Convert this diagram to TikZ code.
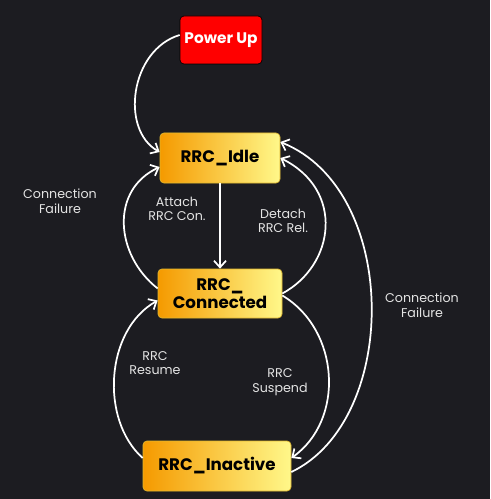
\documentclass[tikz,border=0pt]{standalone}
\usepackage{fontspec}
\setmainfont{Poppins}
\usetikzlibrary{arrows.meta}
\definecolor{bgdark}{HTML}{1C1C21}
\definecolor{stateorange}{HTML}{F59A00}
\definecolor{stateyellow}{HTML}{FFF88A}
\definecolor{stateedge}{HTML}{E0B830}
\definecolor{labelgray}{HTML}{E4E4E4}

\tikzset{
  state/.style={rounded corners=3pt,draw=stateedge,line width=0.5pt,left color=stateorange,right color=stateyellow,
    inner sep=0pt,align=center,font=\bfseries\fontsize{12.5}{13.5}\selectfont,text=black},
  powerbox/.style={rounded corners=3pt,draw=black,line width=0.5pt,fill=red,
    inner sep=0pt,font=\bfseries\fontsize{11.5}{13}\selectfont,text=white},
  trans/.style={->,draw=white,line width=1.3pt},
  translabel/.style={align=center,text=labelgray,font=\fontsize{9.5}{11}\selectfont}
}

\begin{document}
\begin{tikzpicture}[x=0.75pt,y=-0.75pt,>={Straight Barb[length=5pt,width=9pt]}]
            \fill[bgdark] (0,0) rectangle (490,499);
            \useasboundingbox (0,0) rectangle (490,499);
            % states
            \node[powerbox,minimum width=61.5pt,minimum height=36pt] (pu) at (221,40) {Power Up};
            \node[state,minimum width=90pt,minimum height=37.5pt] (idle) at (220,158) {RRC\_Idle};
            \node[state,minimum width=93pt,minimum height=36.75pt] (conn) at (220,293.5) {RRC\_\\Connected};
            \node[state,minimum width=111pt,minimum height=37.5pt] (inact) at (217,466) {RRC\_Inactive};
            % transitions
            \draw[trans] ([yshift=3.75pt]pu.west) .. controls (130,50) and (120,130) .. ([yshift=4.5pt]idle.west);
            \draw[trans] (idle.south) -- (conn.north);
            \draw[trans] ([yshift=3.75pt]conn.west) .. controls (115,255) and (110,190) .. ([yshift=-6.75pt]idle.west);
            \draw[trans] (conn.east) .. controls (335,265) and (345,190) .. (idle.east);
            \draw[trans] ([yshift=-4.5pt]inact.east) .. controls (400,420) and (400,190) .. ([yshift=12pt]idle.east);
            \draw[trans] ([yshift=-1.5pt]conn.east) .. controls (340,330) and (345,420) .. ([yshift=6pt]inact.east);
            \draw[trans] ([yshift=6pt]inact.west) .. controls (100,420) and (105,330) .. ([yshift=-5.25pt]conn.west);
            % labels
            \node[translabel] (lfail) at (60,201) {Connection\\Failure};
            \node[translabel] (lattach) at (177,209) {Attach\\RRC Con.};
            \node[translabel] (ldetach) at (283,221) {Detach\\RRC Rel.};
            \node[translabel] (rfail) at (422,305) {Connection\\Failure};
            \node[translabel] (lresume) at (155,363) {RRC\\Resume};
            \node[translabel] (lsuspend) at (280,382) {RRC\\Suspend};
        \end{tikzpicture}
\end{document}
